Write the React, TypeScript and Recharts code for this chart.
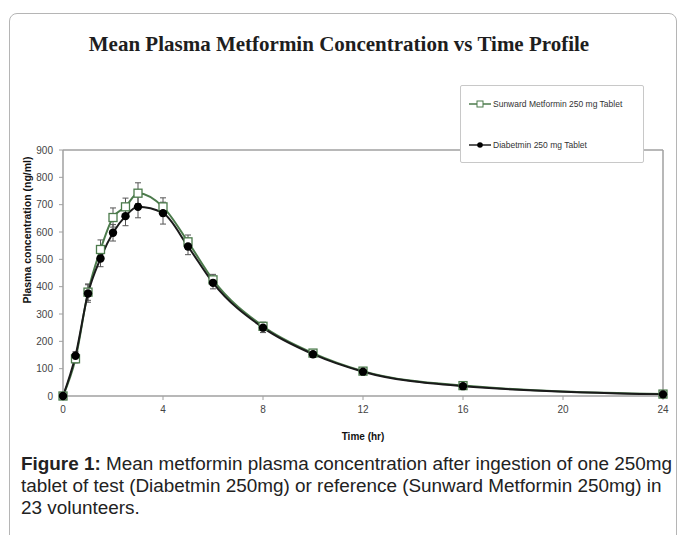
import {
  LineChart,
  Line,
  XAxis,
  YAxis,
  ErrorBar,
  Legend,
  ReferenceLine,
} from "recharts";

const times = [0, 0.5, 1, 1.5, 2, 2.5, 3, 4, 5, 6, 8, 10, 12, 16, 24];
const sunward = [0, 136, 380, 536, 653, 692, 742, 692, 564, 425, 255, 157, 91, 38, 7];
const diabetmin = [0, 147, 375, 503, 597, 658, 692, 669, 547, 414, 250, 153, 89, 36, 6];
const sunwardErr = [0, 15, 30, 35, 35, 32, 38, 33, 25, 20, 15, 10, 8, 6, 2];
const diabetminErr = [0, 15, 32, 30, 30, 35, 40, 40, 30, 22, 18, 12, 8, 6, 2];
const xTicks = [0, 4, 8, 12, 16, 20, 24];
const yTicks = [0, 100, 200, 300, 400, 500, 600, 700, 800, 900];

const SUN_NAME = "Sunward Metformin 250 mg Tablet";
const DIA_NAME = "Diabetmin 250 mg Tablet";
const captionLines = [
  "Mean metformin plasma concentration after ingestion of one 250mg",
  "tablet of test (Diabetmin 250mg) or reference (Sunward Metformin 250mg) in",
  "23 volunteers.",
];

const GREEN = "#4b7a4b";
const AXIS = "#a0a0a0";

const data = times.map((t, i) => ({
  t,
  sun: sunward[i],
  dia: diabetmin[i],
  sunErr: sunwardErr[i],
  diaErr: diabetminErr[i],
}));

const SquareDot = (props: any) => {
  const { cx, cy } = props;
  if (cx == null || cy == null) return null;
  return (
    <rect x={cx - 4} y={cy - 4} width={8} height={8} fill="#fff" stroke={GREEN} strokeWidth={1.3} />
  );
};

const RoundDot = (props: any) => {
  const { cx, cy } = props;
  if (cx == null || cy == null) return null;
  return <circle cx={cx} cy={cy} r={4.2} fill="#000" />;
};

// y-axis title, sits just left of the tick labels
const YTitle = () => (
  <text
    x={27}
    y={230}
    transform="rotate(-90, 27, 230)"
    textAnchor="middle"
    dominantBaseline="central"
    fill="#111"
    fontSize={10.5}
    fontWeight="bold"
  >
    Plasma concentration (ng/ml)
  </text>
);

const LegendBox = () => (
  <div
    style={{
      width: 184,
      height: 78,
      border: "1.5px solid #c8c8c8",
      borderRadius: 2,
      background: "#fff",
      fontFamily: "Liberation Sans, Arial, sans-serif",
      fontSize: 8.5,
      color: "#333",
      boxSizing: "border-box",
      position: "relative",
    }}
  >
    <div style={{ position: "absolute", left: 8, top: 13, display: "flex", alignItems: "center" }}>
      <svg width={22} height={10}>
        <line x1={0} y1={5} x2={22} y2={5} stroke={GREEN} strokeWidth={1.5} />
        <rect x={8} y={2} width={6} height={6} fill="#fff" stroke={GREEN} strokeWidth={1} />
      </svg>
      <span style={{ marginLeft: 2 }}>{SUN_NAME}</span>
    </div>
    <div style={{ position: "absolute", left: 8, top: 54, display: "flex", alignItems: "center" }}>
      <svg width={22} height={10}>
        <line x1={0} y1={5} x2={22} y2={5} stroke="#222" strokeWidth={1.5} />
        <circle cx={11} cy={5} r={2.8} fill="#000" />
      </svg>
      <span style={{ marginLeft: 2 }}>{DIA_NAME}</span>
    </div>
  </div>
);

export default function App() {
  return (
    <div style={{ position: "absolute", left: 0, top: 0, width: 683, height: 535, overflow: "hidden", background: "#fff" }}>
      <div
        style={{
          position: "absolute",
          left: 9,
          top: 13,
          width: 666,
          height: 560,
          border: "1px solid #b5b5b5",
          borderRadius: 8,
        }}
      />
      <div
        style={{
          position: "absolute",
          left: 0,
          top: 32,
          width: 678,
          textAlign: "center",
          fontFamily: "Liberation Serif, serif",
          fontWeight: "bold",
          fontSize: 21,
          color: "#1e1e1e",
        }}
      >
        Mean Plasma Metformin Concentration vs Time Profile
      </div>
      <div style={{ position: "absolute", left: 0, top: 0 }}>
        <LineChart
          width={683}
          height={535}
          data={data}
          margin={{ top: 72, right: 20, bottom: 109, left: 23 }}
          style={{ fontFamily: "Liberation Sans, Arial, sans-serif" }}
        >
          <XAxis
            dataKey="t"
            type="number"
            domain={[0, 24]}
            ticks={xTicks}
            height={30}
            tick={{ fill: "#444", fontSize: 10 }}
            tickSize={4}
            tickMargin={6}
            axisLine={{ stroke: AXIS, strokeWidth: 1.5 }}
            tickLine={{ stroke: AXIS }}
            label={{
              value: "Time (hr)",
              position: "bottom",
              offset: 7,
              fill: "#111",
              fontSize: 10,
              fontWeight: "bold",
            }}
          />
          <YAxis
            type="number"
            domain={[0, 900]}
            ticks={yTicks}
            width={40}
            tick={{ fill: "#444", fontSize: 10 }}
            tickSize={4}
            tickMargin={6}
            axisLine={{ stroke: AXIS, strokeWidth: 1.5 }}
            tickLine={{ stroke: AXIS }}
            label={<YTitle />}
          />
          <ReferenceLine y={900} stroke={AXIS} strokeWidth={1.5} />
          <ReferenceLine x={24} stroke={AXIS} strokeWidth={1.5} />
          <Legend
            verticalAlign="top"
            align="left"
            content={<LegendBox />}
            wrapperStyle={{ position: "absolute", left: 460, top: 85, width: 184 }}
          />
          <Line
            type="monotone"
            dataKey="sun"
            name={SUN_NAME}
            stroke={GREEN}
            strokeWidth={2}
            dot={<SquareDot />}
            isAnimationActive={false}
          >
            <ErrorBar dataKey="sunErr" direction="y" width={3} stroke="#555" strokeWidth={1} />
          </Line>
          <Line
            type="monotone"
            dataKey="dia"
            name={DIA_NAME}
            stroke="#1a1a1a"
            strokeWidth={2}
            dot={<RoundDot />}
            isAnimationActive={false}
          >
            <ErrorBar dataKey="diaErr" direction="y" width={3} stroke="#555" strokeWidth={1} />
          </Line>
        </LineChart>
      </div>
      <div
        style={{
          position: "absolute",
          left: 21,
          top: 453,
          fontFamily: "Liberation Sans, Arial, sans-serif",
          fontSize: 18.9,
          lineHeight: "22px",
          color: "#222",
          whiteSpace: "nowrap",
        }}
      >
        <div>
          <b>Figure 1:</b> {captionLines[0]}
        </div>
        <div>{captionLines[1]}</div>
        <div>{captionLines[2]}</div>
      </div>
    </div>
  );
}
